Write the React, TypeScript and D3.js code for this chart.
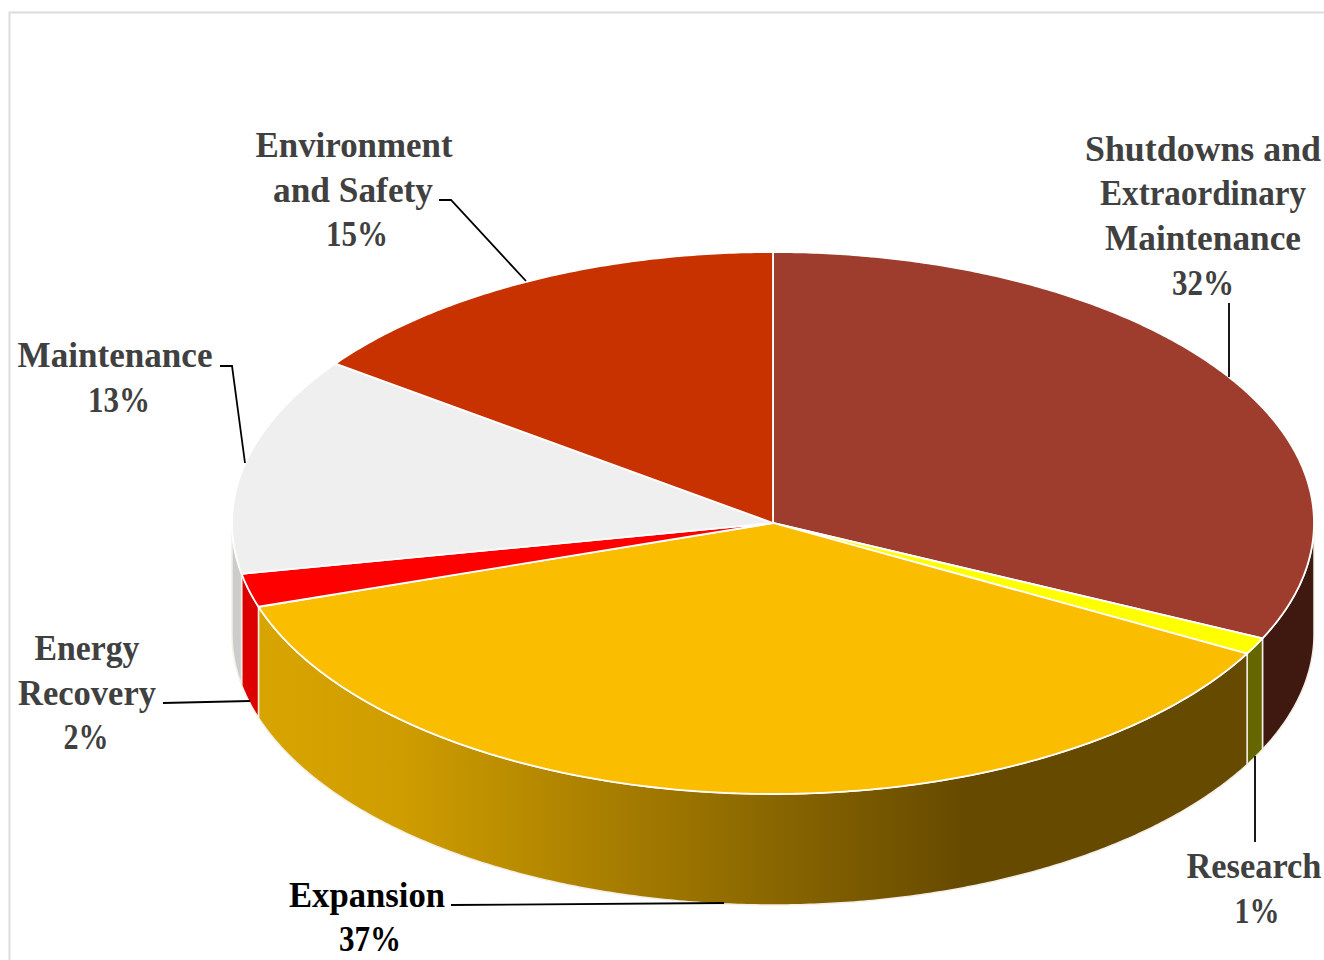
import React from "react";
import * as d3 from "d3";

// Capital spending by category, in percent, clockwise from twelve o'clock
const categories = ["Shutdowns and Extraordinary Maintenance", "Research", "Expansion", "Energy Recovery", "Maintenance", "Environment and Safety"];
const shares = [32, 1, 37, 2, 13, 15];
const topColors = ["#9e3d2d", "#ffff00", "#fbbd00", "#ff0000", "#efefef", "#c83200"];
const wallColors = ["#3f1910", "#666600", "url(#expansionWall)", "#dc0000", "#cccccc", "#7a1e00"];

const width = 1324;
const height = 960;
const cx = 773;
const cy = 523;
const rx = 541;
const ry = 271;
const depth = 111;
const serif = "'Liberation Serif', 'DejaVu Serif', serif";

// Text blocks around the pie: one line per row, with centre x, baseline y and set width
const labelBlocks = [
  { fill: "#404040", lines: [["Shutdowns and", 1203, 161, 236], ["Extraordinary", 1203, 205, 206], ["Maintenance", 1203, 250, 196], ["32%", 1203, 295, 62]] },
  { fill: "#404040", lines: [["Research", 1254, 878, 135], ["1%", 1257, 923, 45]] },
  { fill: "#000000", lines: [["Expansion", 367, 907, 156], ["37%", 370, 951, 62]] },
  { fill: "#404040", lines: [["Energy", 87, 660, 105], ["Recovery", 87, 705, 138], ["2%", 86, 749, 45]] },
  { fill: "#404040", lines: [["Maintenance", 115, 367, 195], ["13%", 119, 412, 62]] },
  { fill: "#404040", lines: [["Environment", 354, 157, 197], ["and Safety", 353, 202, 160], ["15%", 357, 246, 62]] },
];

// Leader lines from each text block to its slice
const leaders: [number, number][][] = [
  [[1229, 303], [1229, 377]],
  [[1255, 756], [1255, 842]],
  [[451, 905], [724, 903]],
  [[163, 703], [250, 701]],
  [[220, 366], [232, 366], [245, 463]],
  [[439, 200], [451, 200], [526, 281]],
];

const slices = d3.pie<number>().sort(null)(shares);
const line = d3.line();

// A point on the tilted rim; the angle runs clockwise from the top of the ellipse
const rim = (a: number, drop = 0): [number, number] => [
  cx + rx * Math.sin(a),
  cy - ry * Math.cos(a) + drop,
];

const arcPoints = (a0: number, a1: number, drop = 0) => {
  const n = Math.max(2, Math.ceil(Math.abs(a1 - a0) * 120));
  return d3.range(n + 1).map((i) => rim(a0 + ((a1 - a0) * i) / n, drop));
};

const topPath = (a0: number, a1: number) =>
  line([[cx, cy], ...arcPoints(a0, a1)]) + "Z";

// Only the front half of the cylinder can be seen
const wallPath = (a0: number, a1: number) => {
  const s = Math.max(a0, Math.PI / 2);
  const e = Math.min(a1, (3 * Math.PI) / 2);
  if (e <= s) return null;
  return line([...arcPoints(s, e), ...arcPoints(e, s, depth)]) + "Z";
};

export default function App() {
  return (
    <svg
      width={width}
      height={height}
      style={{ position: "absolute", left: 0, top: 0, background: "#fff" }}
    >
      <defs>
        <linearGradient id="expansionWall" gradientUnits="userSpaceOnUse" x1={258} x2={965} y1={0} y2={0}>
          <stop offset="0" stopColor="#d8a400" />
          <stop offset="0.2" stopColor="#cf9d00" />
          <stop offset="1" stopColor="#664a00" />
        </linearGradient>
      </defs>

      <path d="M9.5 960V12.5H1324" fill="none" stroke="#dcdcdc" strokeWidth={2} />

      {slices.map((s, i) => {
        const d = wallPath(s.startAngle, s.endAngle);
        return d ? (
          <path key={categories[i]} d={d} fill={wallColors[i]} stroke="#f4efe6" strokeWidth={1.5} strokeLinejoin="round" />
        ) : null;
      })}

      {slices.map((s, i) => (
        <path key={categories[i]} d={topPath(s.startAngle, s.endAngle)} fill={topColors[i]} stroke="#fff" strokeWidth={1.8} strokeLinejoin="round" />
      ))}

      {leaders.map((pts, i) => (
        <path key={i} d={line(pts) as string} fill="none" stroke="#000" strokeWidth={1.8} />
      ))}

      {labelBlocks.map((block, i) => (
        <g key={i} fill={block.fill} fontFamily={serif} fontWeight={700} fontSize={35} textAnchor="middle">
          {block.lines.map(([text, x, y, w]) => (
            <text key={text as string} x={x as number} y={y as number} textLength={w as number} lengthAdjust="spacingAndGlyphs">
              {text}
            </text>
          ))}
        </g>
      ))}
    </svg>
  );
}
